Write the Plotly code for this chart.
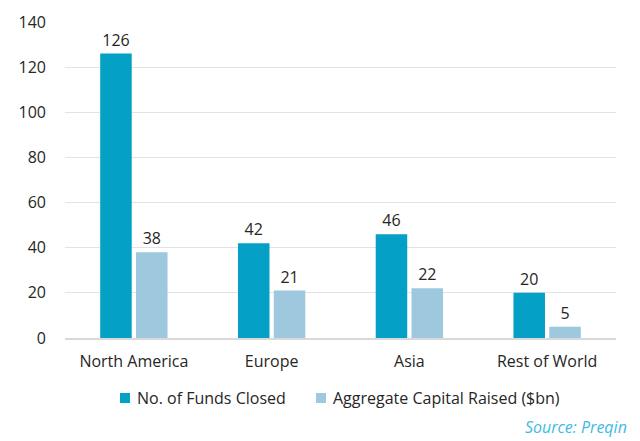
import plotly.graph_objects as go

categories = ["North America", "Europe", "Asia", "Rest of World"]
funds_closed = [126, 42, 46, 20]
capital_raised = [38, 21, 22, 5]
series_names = ["No. of Funds Closed", "Aggregate Capital Raised ($bn)"]
y_ticks = [0, 20, 40, 60, 80, 100, 120, 140]

DARK = "#04A0C6"
LIGHT = "#9DC8DE"
TXT = "#262626"
FONT = "Open Sans"

fig = go.Figure()
for name, vals, col in [(series_names[0], funds_closed, DARK), (series_names[1], capital_raised, LIGHT)]:
    fig.add_trace(go.Bar(
        x=categories, y=vals, name=name, marker=dict(color=col, line=dict(width=0)),
        text=[str(v) for v in vals], textposition="outside", cliponaxis=False,
        textfont=dict(family=FONT, size=16, color=TXT),
    ))

# manual legend (squares + labels) below the plot; positions in page pixels -> paper coords
W, H = 551.0, 316.0
def px(x):
    return (x - 65) / W
def py(y):
    return (338 - y) / H

shapes = []
annotations = []
legend_items = [(series_names[0], DARK, 120, 135), (series_names[1], LIGHT, 316, 331)]
for name, col, sq_x, tx_x in legend_items:
    shapes.append(dict(type="rect", xref="paper", yref="paper",
                       x0=px(sq_x), x1=px(sq_x + 10), y0=py(403), y1=py(393),
                       fillcolor=col, line=dict(width=0)))
    annotations.append(dict(text=name, xref="paper", yref="paper", x=px(tx_x), y=py(398),
                            xanchor="left", yanchor="middle", showarrow=False,
                            font=dict(family=FONT, size=16, color=TXT)))
annotations.append(dict(text="Source: Preqin", xref="paper", yref="paper", x=px(629), y=py(427),
                        xanchor="right", yanchor="middle", showarrow=False,
                        font=dict(family=FONT, size=16, color="#3FB9E6", style="italic")))

# page body has an 8px margin, so the figure is offset by 8px
fig.update_layout(
    width=632, height=433,
    margin=dict(l=57, r=24, t=14, b=103, autoexpand=False),
    paper_bgcolor="white", plot_bgcolor="white",
    barmode="group", bargap=0.48, bargroupgap=0.12,
    font=dict(family=FONT, size=16, color=TXT),
    showlegend=False,
    shapes=shapes,
    annotations=annotations,
)
fig.update_yaxes(range=[0, 140], tickvals=y_ticks, showgrid=True, gridcolor="#E3E3E3", gridwidth=1.3,
                 zeroline=False, showline=False, ticks="", tickfont=dict(family=FONT, size=16, color=TXT),
                 ticklabelstandoff=18, automargin=False)
fig.update_xaxes(showline=True, linecolor="#D9D9D9", linewidth=1.5, ticks="",
                 tickfont=dict(family=FONT, size=16, color=TXT), ticklabelstandoff=8, automargin=False)

fig.write_html("out.html")
